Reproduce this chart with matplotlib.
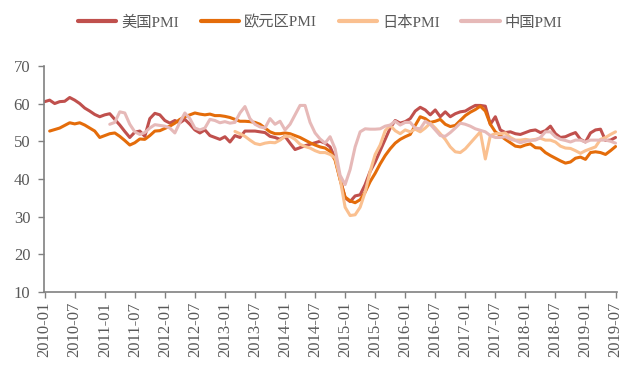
import numpy as np
import pandas as pd
import matplotlib
matplotlib.use("Agg")
import matplotlib.pyplot as plt

nan = np.nan

# 月度序列 2010-01 ~ 2019-07
months = pd.date_range("2010-01", "2019-07", freq="MS").strftime("%Y-%m").tolist()

us_pmi = [60.5, 60.9, 60.0, 60.5, 60.6, 61.6, 60.9, 60.0, 58.8, 58.0, 57.1, 56.5,
          57.0, 57.3, 55.8, 54.3, 52.6, 51.0, 52.4, 52.7, 51.3, 56.0, 57.4, 57.0,
          55.5, 54.8, 55.5, 54.9, 55.8, 54.5, 53.0, 52.2, 53.0, 51.5, 51.0, 50.5,
          51.2, 49.8, 51.5, 51.0, 52.7, 52.7, 52.7, 52.5, 52.3, 51.3, 51.0, 50.5,
          51.3, 49.5, 47.8, 48.3, 48.8, 49.2, 49.6, 50.0, 49.5, 48.5, 45.5, 40.0,
          35.0, 34.0, 35.5, 35.8, 38.5, 42.0, 44.5, 47.5, 50.5, 53.5, 55.5, 54.8,
          55.2, 56.0, 58.0, 59.0, 58.3, 57.0, 58.3, 56.5, 57.8, 56.5, 57.3, 57.8,
          58.0, 58.8, 59.5, 59.5, 59.3, 54.5, 56.5, 53.0, 52.3, 52.5, 52.0, 51.8,
          52.3, 52.8, 53.0, 52.3, 52.8, 54.0, 52.0, 51.0, 51.2, 51.8, 52.3, 50.5,
          49.8, 52.2, 53.0, 53.2, 50.2, 50.3, 51.0]

eu_pmi = [nan, 52.7, 53.1, 53.5, 54.2, 54.9, 54.6, 54.9, 54.3, 53.5, 52.7, 51.0,
          51.5, 52.0, 52.2, 51.3, 50.2, 49.0, 49.6, 50.6, 50.5, 51.5, 52.7, 52.8,
          53.4, 54.0, 54.8, 55.8, 56.5, 57.0, 57.5, 57.2, 57.0, 57.2, 56.8, 56.8,
          56.6, 56.3, 55.8, 55.3, 55.3, 55.2, 55.0, 54.5, 53.5, 52.5, 52.0, 52.0,
          52.2, 52.0, 51.5, 51.0, 50.3, 49.6, 49.0, 48.5, 48.2, 47.3, 45.0, 39.8,
          35.2, 34.2, 33.7, 34.5, 36.5, 39.3, 41.5, 44.0, 46.2, 48.0, 49.5, 50.5,
          51.2, 51.8, 54.2, 56.5, 56.0, 55.0, 55.3, 55.8, 54.5, 53.9, 54.2, 55.5,
          56.8, 57.7, 58.4, 59.3, 58.0, 54.5, 52.5, 51.5, 50.5, 49.6, 48.7, 48.5,
          49.0, 49.3, 48.3, 48.2, 47.0, 46.2, 45.5, 44.8, 44.2, 44.5, 45.5, 45.8,
          45.2, 47.0, 47.2, 47.0, 46.5, 47.5, 48.6]

jp_pmi = [nan] * 38 + [
          52.6, 52.0, 51.3, 50.3, 49.4, 49.1, 49.5, 49.7, 49.6, 50.3,
          51.3, 51.3, 50.5, 49.2, 48.6, 48.2, 47.5, 47.0, 47.0, 46.5, 45.6, 40.0,
          32.5, 30.3, 30.5, 32.5, 36.5, 42.0, 46.5, 49.0, 52.8, 54.2, 52.8, 52.0,
          53.0, 52.5, 53.2, 52.5, 53.5, 54.8, 53.5, 52.0, 50.5, 48.5, 47.2, 47.0,
          48.0, 49.5, 51.0, 52.5, 45.3, 51.5, 52.0, 52.0, 52.2, 51.0, 50.3, 50.3,
          50.5, 50.3, 50.5, 50.8, 50.3, 50.3, 49.8, 48.7, 48.2, 48.1, 47.5, 46.8,
          47.5, 48.0, 48.5, 50.5, 51.0, 51.8, 52.5]

cn_pmi = [nan] * 13 + [
          54.5, 55.0, 57.8, 57.5, 54.5, 52.5, 51.8, 52.3, 53.5, 54.4, 54.2,
          54.0, 53.5, 52.2, 55.0, 57.5, 56.0, 53.5, 53.0, 53.5, 55.8, 55.5, 54.9,
          55.2, 54.8, 55.0, 57.5, 59.2, 56.0, 54.5, 53.8, 53.5, 56.0, 54.5, 55.3,
          53.0, 54.5, 57.0, 59.5, 59.5, 55.0, 52.2, 50.6, 49.5, 51.2, 48.0, 41.0,
          38.5, 42.5, 48.5, 52.5, 53.3, 53.2, 53.2, 53.3, 54.0, 54.3, 55.3, 54.3,
          55.0, 55.0, 53.5, 53.3, 55.3, 54.5, 53.0, 51.5, 51.3, 52.3, 53.5, 54.8,
          54.5, 54.0, 53.3, 52.9, 52.5, 51.5, 51.0, 51.0, 51.2, 50.5, 50.2, 49.6,
          50.0, 50.2, 50.3, 51.0, 52.5, 52.5, 51.2, 50.5, 50.2, 49.8, 50.3, 50.3,
          49.8, 50.3, 50.3, 50.3, 50.3, 50.0, 49.5]

series_names = ["美国PMI", "欧元区PMI", "日本PMI", "中国PMI"]
colors = ["#C0504D", "#E46C0A", "#FAC090", "#E6B9B8"]

grey = "#808080"
text_c = "#595959"
serif_cjk = ["Liberation Serif", "Noto Sans CJK SC"]

fig = plt.figure(figsize=(6.22, 3.74), dpi=100)
ax = fig.add_axes([0.071, 0.219, 0.921, 0.605])

x = np.arange(len(months))
for vals, name, c in zip([us_pmi, eu_pmi, jp_pmi, cn_pmi], series_names, colors):
    ax.plot(x, np.array(vals, dtype=float), color=c, lw=2.2, label=name,
            solid_joinstyle="round", solid_capstyle="round")

ax.set_xlim(-0.1, len(months) - 0.7)
ax.set_ylim(10, 70)
ax.set_yticks(range(10, 71, 10))
ax.set_xticks(x[::6])
ax.set_xticklabels(months[::6], rotation=90, family=serif_cjk, fontsize=12, color=text_c)
for t in ax.get_yticklabels():
    t.set_family(serif_cjk)
    t.set_fontsize(12)
    t.set_color(text_c)

for s in ["top", "right"]:
    ax.spines[s].set_visible(False)
for s in ["left", "bottom"]:
    ax.spines[s].set_color(grey)
    ax.spines[s].set_linewidth(1.2)
ax.tick_params(axis="both", direction="out", color=grey, length=4, width=1)
ax.tick_params(axis="y", pad=6)
ax.tick_params(axis="x", pad=3)

leg = fig.legend(loc="center", bbox_to_anchor=(0.515, 0.94), ncol=4, frameon=False,
                 handlelength=2.5, handletextpad=0.35, columnspacing=1.4,
                 prop={"family": serif_cjk, "size": 11})
for t in leg.get_texts():
    t.set_color(text_c)
for h in leg.get_lines():
    h.set_linewidth(3)

fig.savefig("out.png", dpi=100)
